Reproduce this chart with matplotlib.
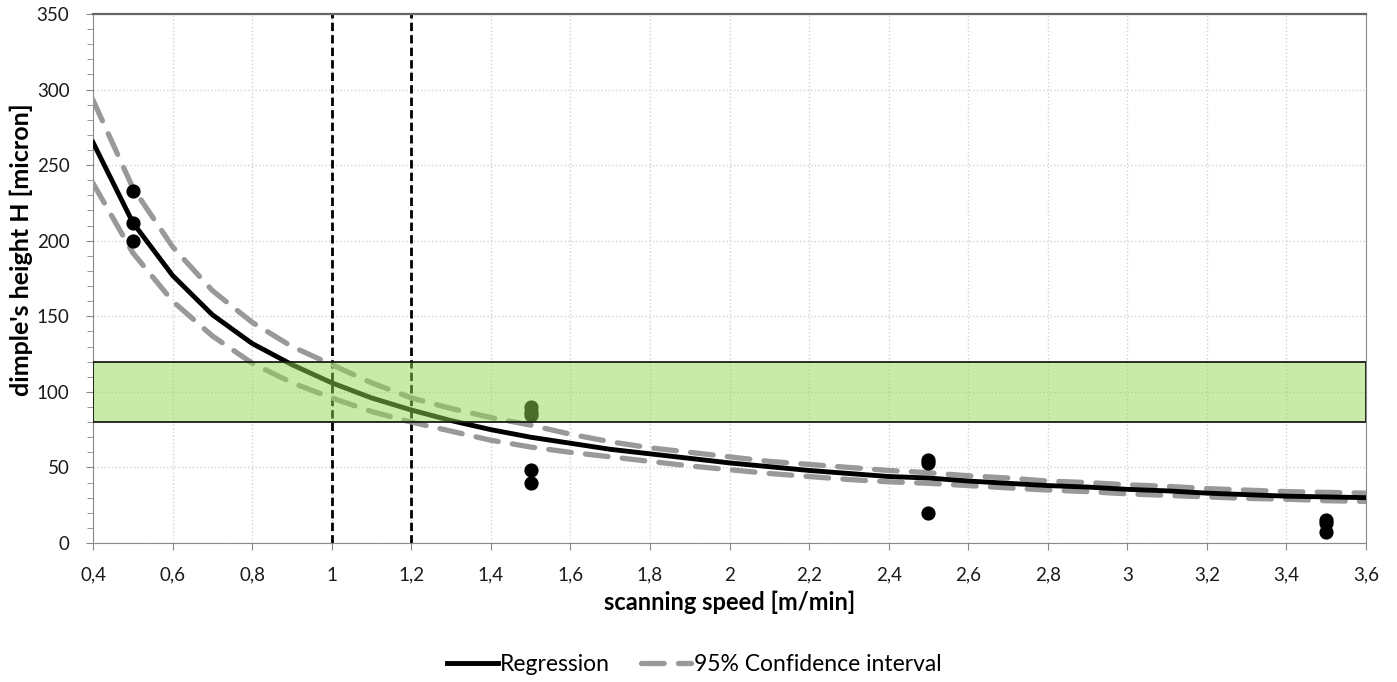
import matplotlib.pyplot as plt
from matplotlib.patches import Rectangle
from matplotlib.ticker import MultipleLocator, FuncFormatter

plt.rcParams["font.family"] = ["Lato", "DejaVu Sans"]

speed = [0.4, 0.5, 0.6, 0.7, 0.8, 0.9, 1.0, 1.1, 1.2, 1.3, 1.4, 1.5, 1.6,
         1.7, 1.8, 1.9, 2.0, 2.1, 2.2, 2.3, 2.4, 2.5, 2.6, 2.7, 2.8, 2.9,
         3.0, 3.1, 3.2, 3.3, 3.4, 3.5, 3.6]
regression = [265, 212, 177, 151, 132, 118, 106, 96, 88, 81, 75, 70, 66,
              62, 59, 56, 53, 50.5, 48, 46, 44, 43, 41, 39.5, 38, 37,
              35.5, 34.5, 33, 32, 31, 30.5, 30]
ci_upper = [293, 235, 196, 167, 146, 130, 118, 106, 96, 89, 83, 78, 72,
            67, 63, 60, 57, 54, 52, 50, 48, 46.5, 44.5, 43, 41, 40,
            38.5, 37.5, 36, 35, 34, 33.5, 33]
ci_lower = [238, 192, 160, 137, 119, 106, 96, 87, 80, 74, 68, 63.5, 60,
            57, 54, 51, 48.5, 46, 44, 42, 40.5, 39.5, 38, 36.5, 35, 34,
            32.5, 31.5, 30.5, 29.5, 29, 28, 27.5]

# measured dimple heights
meas_x = [0.5, 0.5, 0.5, 1.5, 1.5, 1.5, 1.5, 1.5, 2.5, 2.5, 2.5, 3.5, 3.5, 3.5]
meas_y = [233, 212, 200, 90, 87, 85, 48, 40, 55, 53, 20, 15, 13, 7]

# target window and chosen speeds
target_lo, target_hi = 80, 120
speed_marks = [1.0, 1.2]

fig = plt.figure(figsize=(13.97, 6.82), dpi=100, facecolor="white")
ax = fig.add_axes([0.0666, 0.2038, 0.9112, 0.7757])

ci_style = dict(color="#999999", lw=3.8, ls=(0, (4.3, 2.7)),
                dash_capstyle="round", zorder=3)
ax.plot(speed, ci_upper, label="95% Confidence interval", **ci_style)
ax.plot(speed, ci_lower, **ci_style)
ax.plot(speed, regression, color="black", lw=3.5, label="Regression", zorder=4)
ax.scatter(meas_x, meas_y, s=85, color="black", zorder=5)

for xv in speed_marks:
    ax.axvline(xv, color="black", lw=2, ls=(0, (3, 1.5)), zorder=2)

ax.add_patch(Rectangle((0.4, target_lo), 3.2, target_hi - target_lo,
                       facecolor=(0.58, 0.84, 0.33, 0.5), edgecolor="#1a1a1a",
                       lw=1.3, zorder=6))

ax.set_xlim(0.4, 3.6)
ax.set_ylim(0, 350)
ax.xaxis.set_major_locator(MultipleLocator(0.2))
ax.yaxis.set_major_locator(MultipleLocator(50))
ax.yaxis.set_minor_locator(MultipleLocator(10))
ax.xaxis.set_major_formatter(FuncFormatter(lambda v, p: f"{v:g}".replace(".", ",")))
ax.grid(True, which="major", color="#d2d2d2", lw=1, ls=":")
ax.set_axisbelow(True)
ax.tick_params(axis="both", which="major", labelsize=13.5, length=5,
               color="#888888", labelcolor="#1a1a1a", direction="out")
ax.tick_params(axis="x", pad=12)
ax.tick_params(axis="y", pad=12)
ax.tick_params(axis="y", which="minor", length=4, color="#888888")
for side in ("left", "bottom", "right"):
    ax.spines[side].set_color("#8a8a8a")
ax.spines["top"].set_color("#666666")
ax.spines["top"].set_linewidth(1.6)

ax.set_xlabel("scanning speed [m/min]", fontsize=17, fontweight="bold", labelpad=5)
ax.set_ylabel("dimple's height H [micron]", fontsize=18, fontweight="bold")
ax.yaxis.set_label_coords(-0.047, 0.555)

handles, labels = ax.get_legend_handles_labels()
fig.legend(handles[::-1], labels[::-1], loc="center", bbox_to_anchor=(0.497, 0.025),
           ncol=2, frameon=False, fontsize=16.5, handlelength=2.2,
           handletextpad=0.1, columnspacing=1.35)

fig.savefig("out.png", dpi=100, facecolor="white")
